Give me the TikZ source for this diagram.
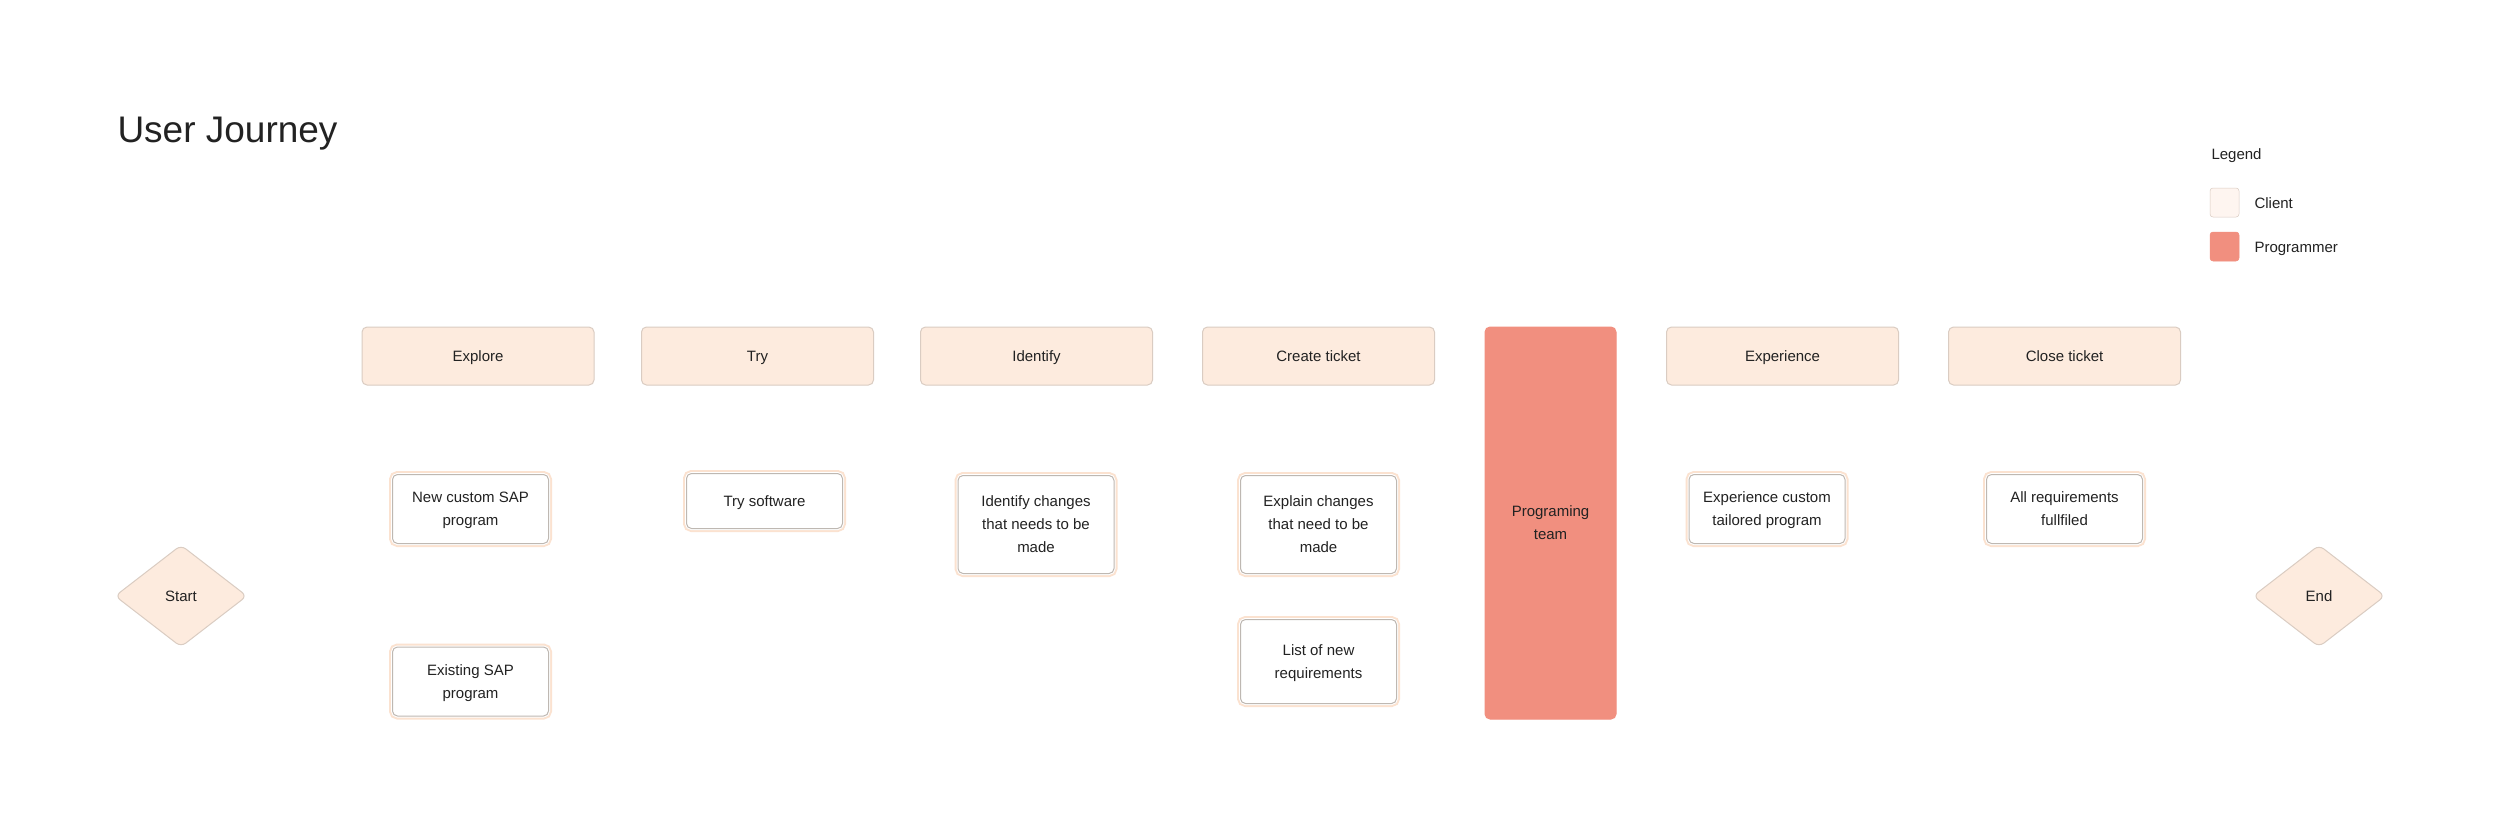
\documentclass[tikz,border=0pt]{standalone}
\usepackage{fontspec}
\setmainfont{Liberation Sans}
\usetikzlibrary{shapes.geometric}

\definecolor{ink}{RGB}{34,34,34}
\definecolor{peachfill}{RGB}{253,235,222}
\definecolor{stageline}{RGB}{218,204,194}
\definecolor{taskglow}{RGB}{251,226,208}
\definecolor{taskline}{RGB}{190,184,178}
\definecolor{salmon}{RGB}{241,143,127}
\definecolor{clientfill}{RGB}{254,245,240}

\tikzset{every picture/.style={line width=0.5pt}}

\begin{document}
\begin{tikzpicture}[x=0.5pt,y=0.5pt,yscale=-1,xscale=1,
  label text/.style={inner sep=0pt, text=ink, font=\fontsize{7.5pt}{11.5pt}\selectfont},
  one line/.style={text height=5.4pt, text depth=0pt},
  stage/.style={label text, one line, rectangle, rounded corners=2.5pt, fill=peachfill, draw=stageline, minimum width=116pt, minimum height=29pt},
  taskbox/.style={label text, align=center, text depth=0pt, rectangle, rounded corners=2.5pt, fill=white, draw=taskline,
    preaction={draw=taskglow, line width=3.5pt}, preaction={draw=white, line width=1.5pt},
    minimum width=78pt},
  team/.style={label text, align=center, text depth=0pt, rectangle, rounded corners=2.5pt, fill=salmon, draw=salmon, minimum width=65.5pt, minimum height=196pt},
  terminal/.style={label text, one line, diamond, rounded corners=3pt, fill=peachfill, draw=stageline, minimum width=66pt, minimum height=51pt},
  swatch/.style={rectangle, rounded corners=1.5pt, draw=stageline, line width=0.25pt, minimum width=14.5pt, minimum height=14.5pt, inner sep=0pt}]

\fill [white] (0,0) rectangle (2500,837);
\useasboundingbox (0,0) rectangle (2500,837);

% Text Node
\node [label text, anchor=base west, font=\fontsize{18.5pt}{22pt}\selectfont] (title) at (117,142) {User Journey};

%Shape: Rectangle (stages)
\node [stage] (explore) at (478,356) {Explore};
\node [stage] (try) at (757.5,356) {Try};
\node [stage] (identify) at (1036.5,356) {Identify};
\node [stage] (ticket) at (1318.5,356) {Create ticket};
\node [stage] (experience) at (1782.5,356) {Experience};
\node [stage] (close) at (2064.5,356) {Close ticket};

%Shape: Rectangle (programmer)
\node [team] (team) at (1550.5,523) {Programing\\team};

%Shape: Rectangle (tasks)
\node [taskbox, minimum height=34.5pt] (newsap) at (470.5,509) {New custom SAP\\program};
\node [taskbox, minimum height=34.5pt] (oldsap) at (470.5,681.5) {Existing SAP\\program};
\node [taskbox, one line, minimum height=27.5pt] (trysw) at (764.5,501) {Try software};
\node [taskbox, minimum height=49pt] (changes) at (1036,524.5) {Identify changes\\that needs to be\\made};
\node [taskbox, minimum height=49pt] (explain) at (1318.5,524.5) {Explain changes\\that need to be\\made};
\node [taskbox, minimum height=42pt] (reqlist) at (1318.5,661.5) {List of new\\requirements};
\node [taskbox, minimum height=34.5pt] (tailored) at (1767,509) {Experience custom\\tailored program};
\node [taskbox, minimum height=34.5pt] (fulfilled) at (2064.5,509) {All requirements\\fullfiled};

%Shape: Diamond
\node [terminal] (start) at (181,596) {Start};
\node [terminal] (end) at (2319,596) {End};

% Legend
\node [label text, anchor=base west] (legend) at (2211,159) {Legend};
\node [swatch, fill=clientfill] (clientkey) at (2224.5,202.5) {};
\node [label text, anchor=base west] (clientlabel) at (2254,208) {Client};
\node [swatch, fill=salmon, draw=salmon] (progkey) at (2224.5,246.5) {};
\node [label text, anchor=base west] (proglabel) at (2254,252) {Programmer};

\end{tikzpicture}
\end{document}
